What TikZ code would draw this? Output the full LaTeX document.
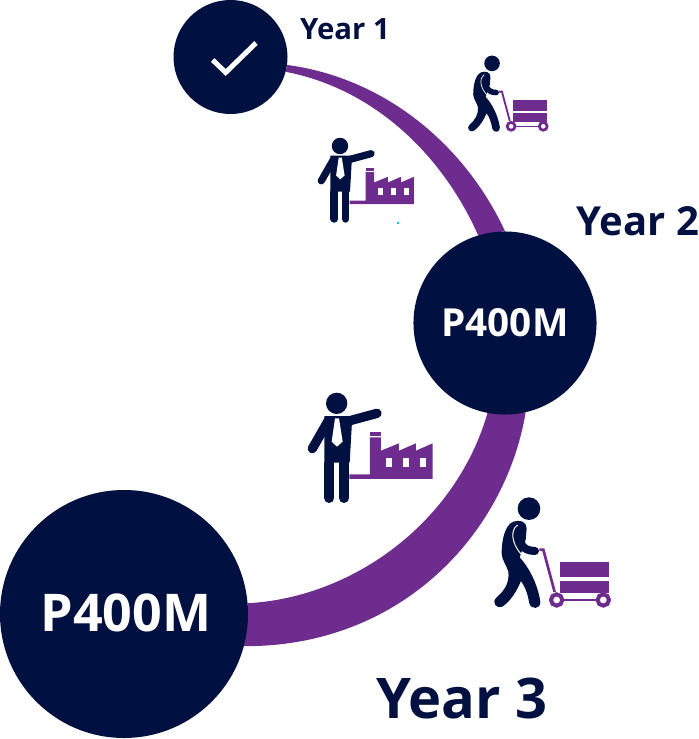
\documentclass[tikz,border=0pt]{standalone}
\usepackage{fontspec}
\setmainfont{Open Sans}
\usetikzlibrary{backgrounds}
\definecolor{navy}{RGB}{0,16,64}
\definecolor{plum}{RGB}{111,44,143}
\definecolor{teal}{RGB}{0,200,205}

\tikzset{
  disc/.style={circle,fill=navy,inner sep=0pt,text=white,font=\bfseries},
  band/.style={fill=plum},
  limb/.style={line width=#1*0.75pt,line cap=round,draw=navy},
  manfactory/.pic={
    \begin{scope}[xscale=#1,yscale=-#1]
    \fill [navy] (125,70) circle (32);
    \draw [limb=28*#1] (165,122) -- (246,100);
    \draw [limb=28*#1] (100,122) -- (52,206);
    \fill [navy] (88,108) -- (172,108) -- (164,248) -- (88,248) -- cycle;
    \draw [limb=30*#1] (103,250) -- (103,354);
    \draw [limb=30*#1] (147,250) -- (147,354);
    \fill [white] (120,115) -- (132,115) -- (143,185) -- (126,200) -- (110,185) -- cycle;
    \fill [plum] (225,156) rectangle (258,168);
    \fill [plum] (163,283) -- (225,283) -- (225,172) -- (258,172) -- (258,212) -- (312,190) -- (312,212) -- (363,190) -- (363,212) -- (413,190) -- (413,297) -- (163,297) -- cycle;
    \fill [white] (274,235) rectangle (292,260);
    \fill [white] (325,235) rectangle (343,260);
    \fill [white] (376,235) rectangle (394,260);
    \end{scope}
  },
  workercart/.pic={
    \begin{scope}[xscale=#1,yscale=-#1]
    \fill [navy] (702,386) circle (34);
    \fill [navy] (655,425) .. controls (675,418) and (695,425) .. (695,445) -- (692,480) -- (674,532) .. controls (700,560) and (728,610) .. (736,665) .. controls (738,688) and (708,690) .. (703,670) .. controls (698,640) and (690,620) .. (678,603) .. controls (665,635) and (645,665) .. (622,680) .. controls (605,688) and (588,668) .. (605,652) .. controls (625,635) and (645,610) .. (640,575) .. controls (635,555) and (620,540) .. (620,520) .. controls (620,480) and (630,435) .. (655,425) -- cycle;
    \draw [limb=24*#1] (674,450) .. controls (672,490) and (680,512) .. (720,513);
    \draw [white,line width=3*#1*0.75pt] (668,435) .. controls (645,450) and (650,490) .. (678,522);
    \draw [plum,line width=8*#1*0.75pt] (733,509) -- (745,509) -- (779,636);
    \fill [plum] (795,546) rectangle (943,592);
    \fill [plum] (795,603) rectangle (943,640);
    \draw [plum,line width=6*#1*0.75pt] (800,660) -- (910,660);
    \draw [plum,fill=white,line width=12*#1*0.75pt] (785,660) circle (17);
    \draw [plum,fill=white,line width=12*#1*0.75pt] (925,660) circle (17);
    \end{scope}
  }
}

\begin{document}
\begin{tikzpicture}[x=0.75pt,y=0.75pt,yscale=-1,xscale=1]

\useasboundingbox (0,0) rectangle (699,739);

\node [disc,minimum size=85.5pt] (yearone) at (230.5,57) {};
\node [disc,minimum size=137.3pt,font=\bfseries\fontsize{29}{32}\selectfont] (yeartwo) at (505,323) {\raisebox{0.8pt}{P400M}};
\node [disc,minimum size=186pt,font=\bfseries\fontsize{39}{44}\selectfont] (yearthree) at (124,614) {\hspace{3pt}\raisebox{1.5pt}{P400M}};

\begin{scope}[on background layer]
\fill [band] (yearone.-8) .. controls (385,78) and (465,145) .. (yeartwo.90) -- (yeartwo.107) .. controls (440,150) and (370,88) .. (yearone.-15) -- cycle;
\fill [band] (yeartwo.-77) .. controls (505,535) and (400,647) .. (yearthree.-15.5) -- (yearthree.5) .. controls (350,598) and (455,525) .. (yeartwo.-101) -- cycle;
\end{scope}

\draw [white,line width=3.75pt] (212.7,60) -- (225.7,72.5) -- (256,43);

\pic at (307.9,128) {manfactory=0.2567};
\pic at (295,380) {manfactory=0.3333};
\pic at (330.8,-25.3) {workercart=0.2297};
\pic at (295,380) {workercart=0.3333};

\fill [teal] (396.5,221.5) rectangle (398.5,223.5);

\node [text=navy,font=\bfseries\fontsize{22}{26}\selectfont] (labelone) at (345,29) {Year 1};
\node [text=navy,font=\bfseries\fontsize{30}{36}\selectfont] (labeltwo) at (638,221) {Year 2};
\node [text=navy,font=\bfseries\fontsize{42}{50}\selectfont] (labelthree) at (462,698) {Year 3};

\end{tikzpicture}
\end{document}
